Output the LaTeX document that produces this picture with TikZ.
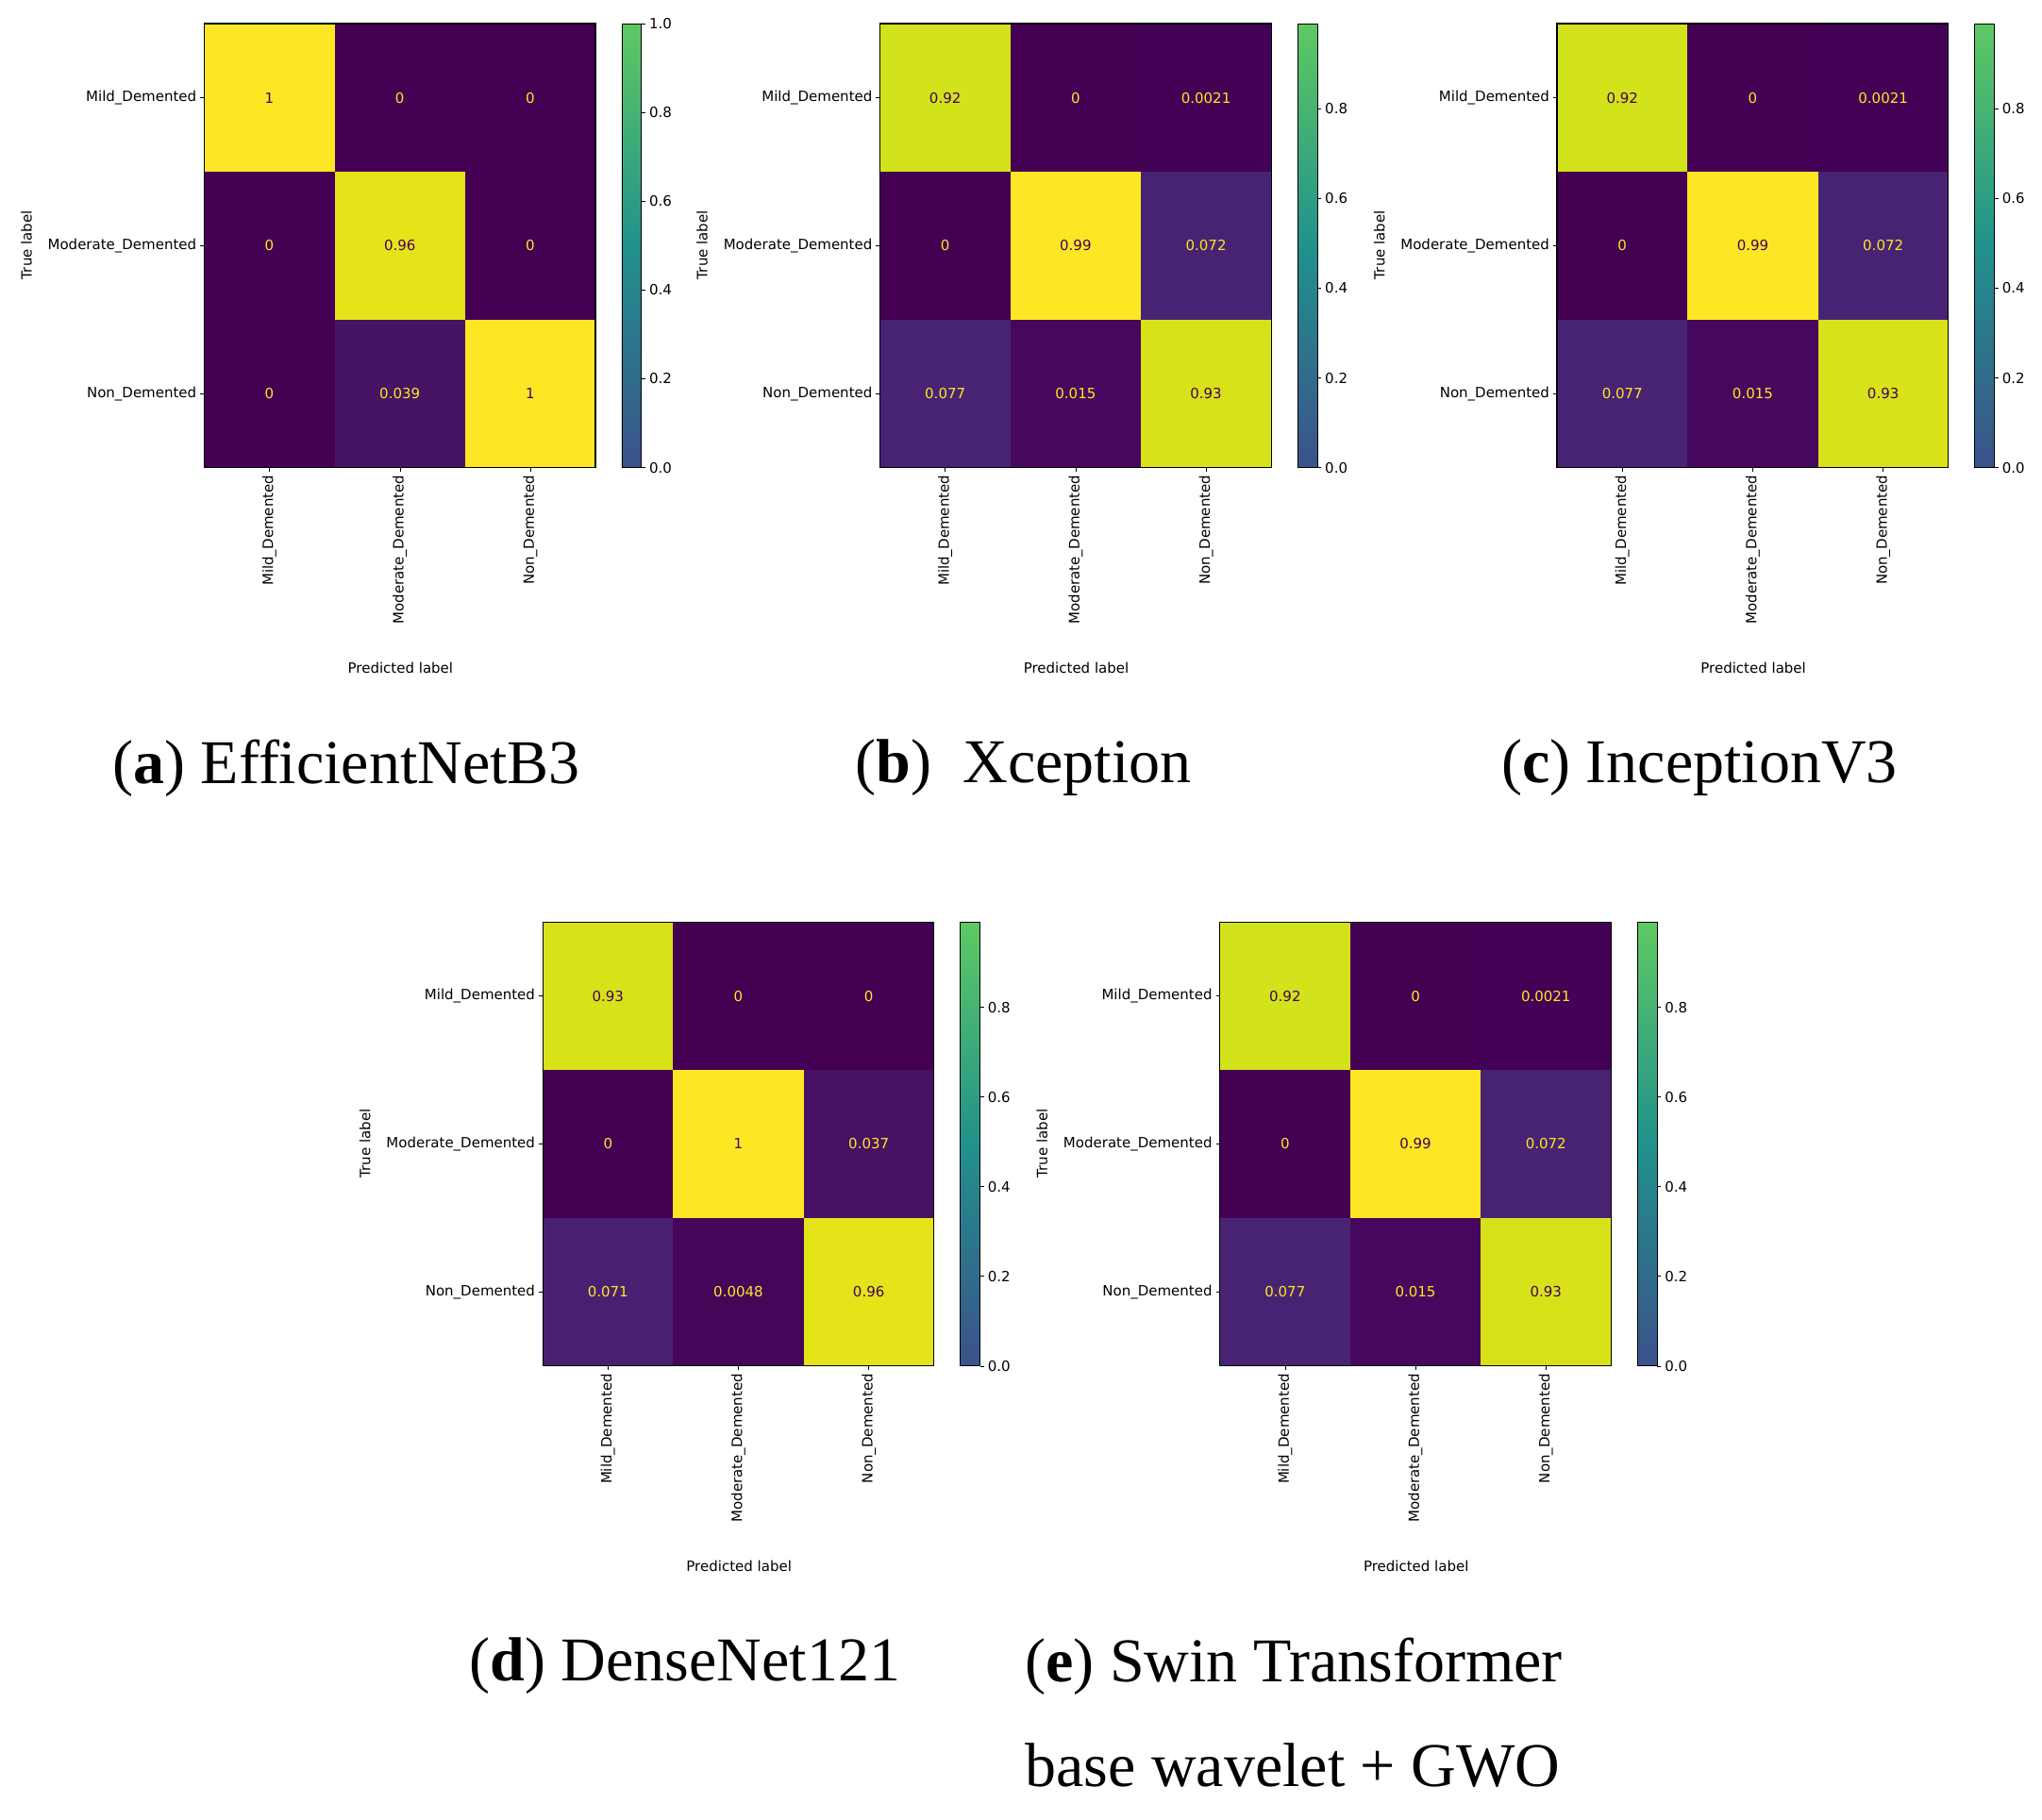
\documentclass[tikz,border=0pt]{standalone}
\usepackage{fontspec}
\setmainfont{Liberation Serif}
\newfontfamily\mplfont{DejaVu Sans}
\definecolor{v0}{HTML}{440154}\definecolor{v1}{HTML}{3B528B}\definecolor{v2}{HTML}{21918C}\definecolor{v3}{HTML}{5EC962}\definecolor{v4}{HTML}{FDE725}
\definecolor{cA}{HTML}{440154}\definecolor{cB}{HTML}{440256}\definecolor{cC}{HTML}{45065A}
\definecolor{cD}{HTML}{46085C}\definecolor{cE}{HTML}{471164}\definecolor{cF}{HTML}{471365}
\definecolor{cG}{HTML}{482072}\definecolor{cH}{HTML}{482374}\definecolor{cI}{HTML}{D2E21B}
\definecolor{cJ}{HTML}{D8E219}\definecolor{cK}{HTML}{E5E419}\definecolor{cL}{HTML}{FDE725}
\pgfdeclareverticalshading{viridis}{100bp}{color(0bp)=(v0); color(25bp)=(v1); color(50bp)=(v2); color(75bp)=(v3); color(100bp)=(v4)}
\tikzset{tick/.style={font=\mplfont\fontsize{15}{18}\selectfont,inner sep=1pt},
 val/.style={font=\mplfont\fontsize{15}{18}\selectfont,inner sep=1pt},
 captext/.style={font=\fontsize{66}{80}\selectfont,inner sep=0pt},
 axisline/.style={line width=1.3pt}}
\newcommand\cmpanel[5]{%
\begin{scope}[shift={(#2,#3)}]
\foreach \r/\c/\v/\fc/\tc in #4{%
 \fill[\fc] (\c*99,\r*112.33) rectangle ++(99,112.33);
 \node[val,text=\tc] (#1-\r-\c) at (\c*99+49.5,\r*112.33+56.17) {\v};}
\draw[axisline] (0,0) rectangle (297,337);
\foreach \i/\t in {0/Mild\_Demented,1/Moderate\_Demented,2/Non\_Demented}{%
 \draw (0,\i*112.33+56.17) -- ++(-3,0);
 \node[tick,anchor=east] (#1-row\i) at (-5,\i*112.33+56.17) {\t};
 \draw (\i*99+49.5,337) -- ++(0,3);
 \node[tick,rotate=90,anchor=east] (#1-col\i) at (\i*99+49.5,342) {\t};}
\node[tick,rotate=90] (#1-ylab) at (-135,168) {True label};
\node[tick] (#1-xlab) at (149,489) {Predicted label};
\shade[shading=viridis] (317,0) rectangle (332,337);
\draw[line width=0.8pt] (317,0) rectangle (332,337);
\foreach \l/\f in #5{%
 \draw (332,337-337*\f) -- ++(3,0);
 \node[tick,anchor=west] at (337,337-337*\f) {\l};}
\end{scope}}
\begin{document}
\begin{tikzpicture}[x=1.396pt,y=-1.396pt]
\useasboundingbox (0,0) rectangle (1550.1,1381.1);
\fill[white] (0,0) rectangle (1550.1,1381.1);
\def\tkA{0.0/0,0.2/0.2,0.4/0.4,0.6/0.6,0.8/0.8,1.0/1}
\def\tkB{0.0/0,0.2/0.202,0.4/0.404,0.6/0.606,0.8/0.808}
\def\cellsA{0/0/1/cL/cA,0/1/0/cA/cL,0/2/0/cA/cL,1/0/0/cA/cL,1/1/0.96/cK/cA,1/2/0/cA/cL,2/0/0/cA/cL,2/1/0.039/cF/cL,2/2/1/cL/cA}
\def\cellsB{0/0/0.92/cI/cA,0/1/0/cA/cL,0/2/0.0021/cB/cL,1/0/0/cA/cL,1/1/0.99/cL/cA,1/2/0.072/cH/cL,2/0/0.077/cH/cL,2/1/0.015/cD/cL,2/2/0.93/cJ/cA}
\def\cellsD{0/0/0.93/cJ/cA,0/1/0/cA/cL,0/2/0/cA/cL,1/0/0/cA/cL,1/1/1/cL/cA,1/2/0.037/cE/cL,2/0/0.071/cG/cL,2/1/0.0048/cC/cL,2/2/0.96/cK/cA}
\cmpanel{a}{155}{18}{\cellsA}{\tkA}
\cmpanel{b}{668}{18}{\cellsB}{\tkB}
\cmpanel{c}{1182}{18}{\cellsB}{\tkB}
\cmpanel{d}{412}{700}{\cellsD}{\tkB}
\cmpanel{e}{926}{700}{\cellsB}{\tkB}
\node[captext] (capa) at (263,583) {(\textbf{a}) EfficientNetB3};
\node[captext] (capb) at (777,583) {(\textbf{b})\ \ Xception};
\node[captext] (capc) at (1290,583) {(\textbf{c}) InceptionV3};
\node[captext] (capd) at (520,1265) {(\textbf{d}) DenseNet121};
\node[captext,anchor=west] (cape) at (778,1265) {(\textbf{e}) Swin Transformer};
\node[captext,anchor=west] (cape2) at (778,1340) {base wavelet + GWO};
\end{tikzpicture}
\end{document}
